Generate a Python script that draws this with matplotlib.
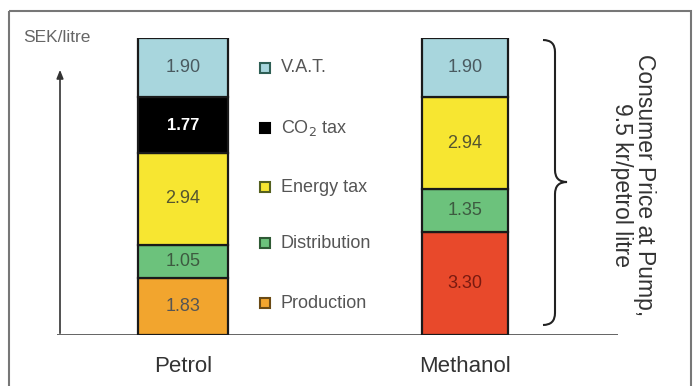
import matplotlib
matplotlib.use("Agg")
import matplotlib.pyplot as plt
from matplotlib.path import Path
from matplotlib.patches import PathPatch, Rectangle
import numpy as np

plt.rcParams['font.family'] = ['Liberation Sans', 'DejaVu Sans']

fuels = ["Petrol", "Methanol"]
components = ["Production", "Distribution", "Energy tax", "CO$_2$ tax", "V.A.T."]
petrol = [1.83, 1.05, 2.94, 1.77, 1.90]
methanol = [3.30, 1.35, 2.94, 0.0, 1.90]
legend_order = ["V.A.T.", "CO$_2$ tax", "Energy tax", "Distribution", "Production"]
petrol_colors = ["#f2a52e", "#6cc27c", "#f7e631", "#000000", "#a8d6dd"]
methanol_colors = ["#e8492b", "#6cc27c", "#f7e631", "#000000", "#a8d6dd"]
legend_colors = {"V.A.T.": ("#a8d6dd", "#2f5f55"), "CO$_2$ tax": ("#000000", "#000000"),
                 "Energy tax": ("#f7e631", "#556020"), "Distribution": ("#6cc27c", "#2f5a35"),
                 "Production": ("#f2a52e", "#6a4a15")}
label_colors_p = ["#555555", "#3d5a40", "#555530", "#ffffff", "#4a5a60"]
label_colors_m = ["#7a1a10", "#3d5a40", "#555530", "#ffffff", "#4a5a60"]
ylabel = "SEK/litre"
brace_text = "Consumer Price at Pump,\n9.5 kr/petrol litre"

W, H = 695, 386
fig = plt.figure(figsize=(W / 100, H / 100), dpi=100)

# overlay axes in pixel coordinates
ov = fig.add_axes([0, 0, 1, 1])
ov.set_xlim(0, W)
ov.set_ylim(H, 0)
ov.axis("off")

# bar axes
total = sum(petrol)
left_px, right_px, bot_px, top_px = 57, 618, 335, 38
ax = fig.add_axes([left_px / W, 1 - bot_px / H, (right_px - left_px) / W, (bot_px - top_px) / H])
ax.patch.set_alpha(0)
scale = 282.0
ax.set_xlim((left_px - 183) / scale, (right_px - 183) / scale)
ax.set_ylim(0, total)
for s in ax.spines.values():
    s.set_visible(False)
ax.set_xticks([])
ax.set_yticks([])

widths = [90 / scale, 86 / scale]
for i, (vals, cols, lcols) in enumerate([(petrol, petrol_colors, label_colors_p),
                                         (methanol, methanol_colors, label_colors_m)]):
    bottom = 0
    for v, c, lc in zip(vals, cols, lcols):
        if v <= 0:
            continue
        ax.bar(i, v, bottom=bottom, width=widths[i], color=c, edgecolor="#1a1a1a", linewidth=1.6, zorder=3)
        bold = lc == "#ffffff"
        ax.text(i, bottom + v / 2, f"{v:.2f}", ha="center", va="center",
                fontsize=12 if bold else 13,
                color=lc, fontweight="bold" if bold else "normal", zorder=4)
        bottom += v

# baseline and axis arrow
ax.axhline(0, color="#555555", lw=2, zorder=2, xmin=0, xmax=1)
ov.annotate("", xy=(60, 67), xytext=(60, 336),
            arrowprops=dict(arrowstyle="-|>,head_length=0.5,head_width=0.2", color="#333333", lw=1.2))
ov.text(23, 37, ylabel, fontsize=12.5, color="#666666", va="center", ha="left")

# category labels
for i, name in enumerate(fuels):
    ax.text(i, -1.02, name, ha="center", va="center", fontsize=16, color="#333333")

# legend
ys = [68, 128, 187, 243, 303]
for lab, y in zip(legend_order, ys):
    fc, ec = legend_colors[lab]
    ov.add_patch(Rectangle((260, y - 5), 10, 10, facecolor=fc, edgecolor=ec, lw=1.5))
    ov.text(281, y, lab, fontsize=13, color="#555555", va="center", ha="left")

# brace
x0, x1, xm = 543, 567, 555
yt, yb, ymid = 40, 325, 182
verts = [(x0, yt), (xm, yt), (xm, yt + 12), (xm, yt + 12),
         (xm, ymid - 12), (xm, ymid - 12), (xm, ymid), (x1, ymid),
         (xm, ymid), (xm, ymid + 12), (xm, ymid + 12),
         (xm, yb - 12), (xm, yb - 12), (xm, yb), (x0, yb)]
codes = [Path.MOVETO, Path.CURVE3, Path.CURVE3, Path.LINETO,
         Path.LINETO, Path.LINETO, Path.CURVE3, Path.CURVE3,
         Path.CURVE3, Path.CURVE3, Path.LINETO,
         Path.LINETO, Path.LINETO, Path.CURVE3, Path.CURVE3]
ov.add_patch(PathPatch(Path(verts, codes), facecolor="none", edgecolor="#222222", lw=1.5))
ov.text(633, 185, brace_text, rotation=-90, ha="center", va="center", fontsize=16.5,
        color="#333333", linespacing=1.0, multialignment="center")

# frame
ov.add_patch(Rectangle((9, 11), 682, 390, facecolor="none", edgecolor="#777777", lw=1.5, clip_on=True))

fig.savefig("out.png", dpi=100)
